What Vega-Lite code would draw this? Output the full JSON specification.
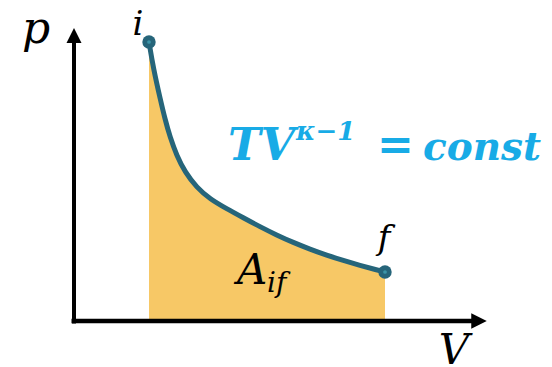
{
  "$schema": "https://vega.github.io/schema/vega-lite/v6.json",
  "width": 552,
  "height": 367,
  "autosize": "none",
  "padding": 0,
  "background": "white",
  "config": {"view": {"stroke": null}},
  "datasets": {
    "curve": [
      {"V": 1.500, "p": 5.580},
      {"V": 1.586, "p": 5.060},
      {"V": 1.734, "p": 4.400},
      {"V": 1.820, "p": 4.040},
      {"V": 1.920, "p": 3.680},
      {"V": 2.054, "p": 3.310},
      {"V": 2.220, "p": 2.980},
      {"V": 2.454, "p": 2.670},
      {"V": 2.720, "p": 2.440},
      {"V": 3.054, "p": 2.245},
      {"V": 3.386, "p": 2.065},
      {"V": 3.720, "p": 1.885},
      {"V": 4.054, "p": 1.718},
      {"V": 4.386, "p": 1.569},
      {"V": 4.720, "p": 1.435},
      {"V": 5.054, "p": 1.315},
      {"V": 5.386, "p": 1.209},
      {"V": 5.720, "p": 1.112},
      {"V": 6.054, "p": 1.022},
      {"V": 6.220, "p": 0.980}
    ],
    "states": [
      {"V": 1.50, "p": 5.58, "state": "i"},
      {"V": 6.22, "p": 0.98, "state": "f"}
    ]
  },
  "encoding": {
    "x": {"field": "V", "type": "quantitative", "scale": {"domain": [-1.48, 9.56], "nice": false, "zero": false}, "axis": null},
    "y": {"field": "p", "type": "quantitative", "scale": {"domain": [-0.92, 6.42], "nice": false, "zero": false}, "axis": null}
  },
  "layer": [
    {
      "data": {"name": "curve"},
      "mark": {"type": "area", "color": "#F7C866", "interpolate": "basis"},
      "encoding": {"y2": {"datum": 0}}
    },
    {
      "data": {"values": [{"V": 0, "p": -0.05, "p2": 5.62}]},
      "mark": {"type": "rule", "color": "#000000", "strokeWidth": 4},
      "encoding": {"y2": {"field": "p2"}}
    },
    {
      "data": {"values": [{"V": -0.05, "V2": 7.98, "p": 0}]},
      "mark": {"type": "rule", "color": "#000000", "strokeWidth": 4.5},
      "encoding": {"x2": {"field": "V2"}}
    },
    {
      "data": {"values": [{"V": 0, "p": 5.71}]},
      "mark": {"type": "point", "shape": "M-1,1L1,1L0,-1Z", "size": 225, "filled": true, "color": "#000000", "opacity": 1}
    },
    {
      "data": {"values": [{"V": 8.1, "p": 0}]},
      "mark": {"type": "point", "shape": "M-1,-1L1,0L-1,1Z", "size": 240, "filled": true, "color": "#000000", "opacity": 1}
    },
    {
      "data": {"name": "curve"},
      "mark": {"type": "line", "color": "#26657A", "strokeWidth": 5, "interpolate": "basis", "strokeCap": "round"}
    },
    {
      "data": {"name": "states"},
      "mark": {"type": "point", "shape": "circle", "size": 180, "filled": true, "color": "#26657A", "opacity": 1}
    },
    {
      "data": {"name": "states"},
      "mark": {"type": "point", "shape": "circle", "size": 14, "filled": true, "color": "#3C95A8", "opacity": 1}
    },
    {
      "data": {"values": [{"V": 1.28, "p": 5.72, "label": "i"}, {"V": 6.2, "p": 1.44, "label": "f"}]},
      "mark": {"type": "text", "font": "DejaVu Serif", "fontStyle": "italic", "fontSize": 34, "align": "center", "baseline": "alphabetic", "color": "#000000"},
      "encoding": {"text": {"field": "label"}}
    },
    {
      "data": {"values": [{"V": -1.04, "p": 5.56, "label": "p"}]},
      "mark": {"type": "text", "font": "DejaVu Serif", "fontStyle": "italic", "fontSize": 44, "align": "left", "baseline": "alphabetic", "color": "#000000"},
      "encoding": {"text": {"field": "label"}}
    },
    {
      "data": {"values": [{"V": 7.6, "p": -0.86, "label": "V"}]},
      "mark": {"type": "text", "font": "DejaVu Serif", "fontStyle": "italic", "fontSize": 42, "align": "center", "baseline": "alphabetic", "color": "#000000"},
      "encoding": {"text": {"field": "label"}}
    },
    {
      "data": {"values": [{"V": 3.26, "p": 0.74, "label": "A"}]},
      "mark": {"type": "text", "font": "DejaVu Serif", "fontStyle": "italic", "fontSize": 42, "align": "left", "baseline": "alphabetic", "color": "#000000"},
      "encoding": {"text": {"field": "label"}}
    },
    {
      "data": {"values": [{"V": 3.86, "p": 0.58, "label": "if"}]},
      "mark": {"type": "text", "font": "DejaVu Serif", "fontStyle": "italic", "fontSize": 28, "align": "left", "baseline": "alphabetic", "color": "#000000"},
      "encoding": {"text": {"field": "label"}}
    },
    {
      "data": {"values": [{"V": 3.08, "p": 3.22, "label": "TV"}, {"V": 6.06, "p": 3.22, "label": "="}]},
      "mark": {"type": "text", "font": "DejaVu Serif", "fontStyle": "italic", "fontWeight": "bold", "fontSize": 44, "align": "left", "baseline": "alphabetic", "color": "#18ABE6"},
      "encoding": {"text": {"field": "label"}}
    },
    {
      "data": {"values": [{"V": 6.98, "p": 3.22, "label": "const"}]},
      "mark": {"type": "text", "font": "DejaVu Serif", "fontStyle": "italic", "fontWeight": "bold", "fontSize": 39, "align": "left", "baseline": "alphabetic", "color": "#18ABE6"},
      "encoding": {"text": {"field": "label"}}
    },
    {
      "data": {"values": [{"V": 4.44, "p": 3.62, "label": "κ−1"}]},
      "mark": {"type": "text", "font": "DejaVu Serif", "fontStyle": "italic", "fontWeight": "bold", "fontSize": 26, "align": "left", "baseline": "alphabetic", "color": "#18ABE6"},
      "encoding": {"text": {"field": "label"}}
    }
  ]
}
